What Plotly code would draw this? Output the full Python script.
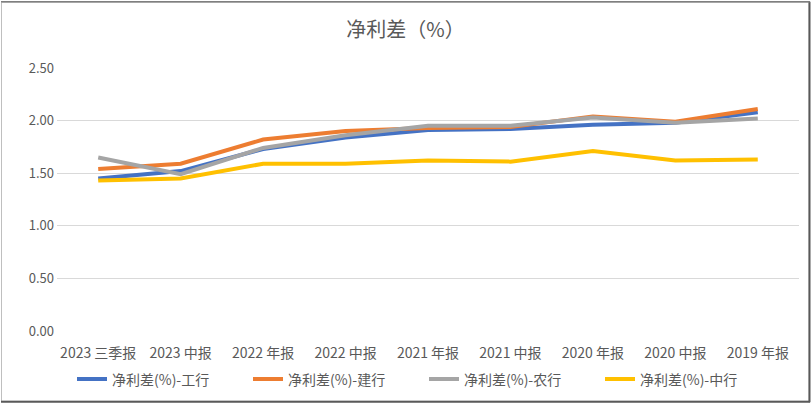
import plotly.graph_objects as go

categories = ["2023 三季报", "2023 中报", "2022 年报", "2022 中报", "2021 年报",
              "2021 中报", "2020 年报", "2020 中报", "2019 年报"]
icbc = [1.45, 1.52, 1.73, 1.84, 1.91, 1.92, 1.96, 1.98, 2.08]
ccb = [1.54, 1.59, 1.82, 1.90, 1.93, 1.94, 2.04, 1.99, 2.11]
abc = [1.65, 1.49, 1.74, 1.86, 1.95, 1.95, 2.03, 1.98, 2.02]
boc = [1.43, 1.45, 1.59, 1.59, 1.62, 1.61, 1.71, 1.62, 1.63]
series_names = ["净利差(%)-工行", "净利差(%)-建行", "净利差(%)-农行", "净利差(%)-中行"]
colors = ["#4472C4", "#ED7D31", "#A5A5A5", "#FFC000"]
yticks = [0, 0.5, 1.0, 1.5, 2.0, 2.5]

W, H = 811, 407
ml, mr, mt, mb = 57, 12, 68, 73
pw, ph = W - ml - mr, H - mt - mb

fig = go.Figure()
for name, vals, c in zip(series_names, [icbc, ccb, abc, boc], colors):
    fig.add_trace(go.Scatter(x=categories, y=vals, name=name, mode="lines",
                             line=dict(color=c, width=4)))

font = "Noto Sans CJK SC, sans-serif"
fig.update_layout(
    width=W, height=H,
    margin=dict(l=ml, r=mr, t=mt, b=mb),
    paper_bgcolor="white", plot_bgcolor="white",
    font=dict(family=font, size=14, color="#595959"),
    title=dict(text="净利差（%）", x=0.5, xanchor="center", y=1 - 30 / H, yanchor="middle",
               font=dict(size=20, color="#595959", family=font)),
    xaxis=dict(type="category", range=[-0.5, 8.5], showgrid=False, showline=False, ticks="",
               tickfont=dict(size=14, color="#595959"), ticklabelstandoff=12),
    yaxis=dict(range=[0, 2.5], tickvals=yticks, ticktext=[f"{v:.2f}" for v in yticks],
               showgrid=True, gridcolor="#D9D9D9", gridwidth=1, zeroline=False,
               showline=False, ticks="", tickfont=dict(size=13, color="#595959"),
               ticklabelstandoff=2),
    legend=dict(orientation="h", x=(424 - ml) / pw, xanchor="center",
                y=-(383 - (H - mb)) / ph, yanchor="middle",
                font=dict(size=14, color="#595959"),
                entrywidth=131, entrywidthmode="pixels",
                traceorder="normal"),
    showlegend=True,
)

def px(x):
    return (x - ml) / pw

def py(y):
    return (H - mb - y) / ph

fig.add_shape(type="rect", xref="paper", yref="paper",
              x0=px(1.5), x1=px(809), y0=py(1.5), y1=py(405),
              line=dict(color="#BFBFBF", width=1), layer="above")
fig.add_shape(type="line", xref="paper", yref="paper",
              x0=px(809.5), x1=px(809.5), y0=py(1), y1=py(406),
              line=dict(color="#595959", width=2))
fig.add_shape(type="line", xref="paper", yref="paper",
              x0=px(1), x1=px(810), y0=py(405.5), y1=py(405.5),
              line=dict(color="#595959", width=2))
fig.add_shape(type="line", xref="paper", yref="paper",
              x0=px(1), x1=px(810), y0=py(1), y1=py(1),
              line=dict(color="#7F7F7F", width=1.5))

fig.write_html("out.html", config={"displayModeBar": False},
               post_script="document.body.style.margin='0';document.body.style.overflow='hidden';")
